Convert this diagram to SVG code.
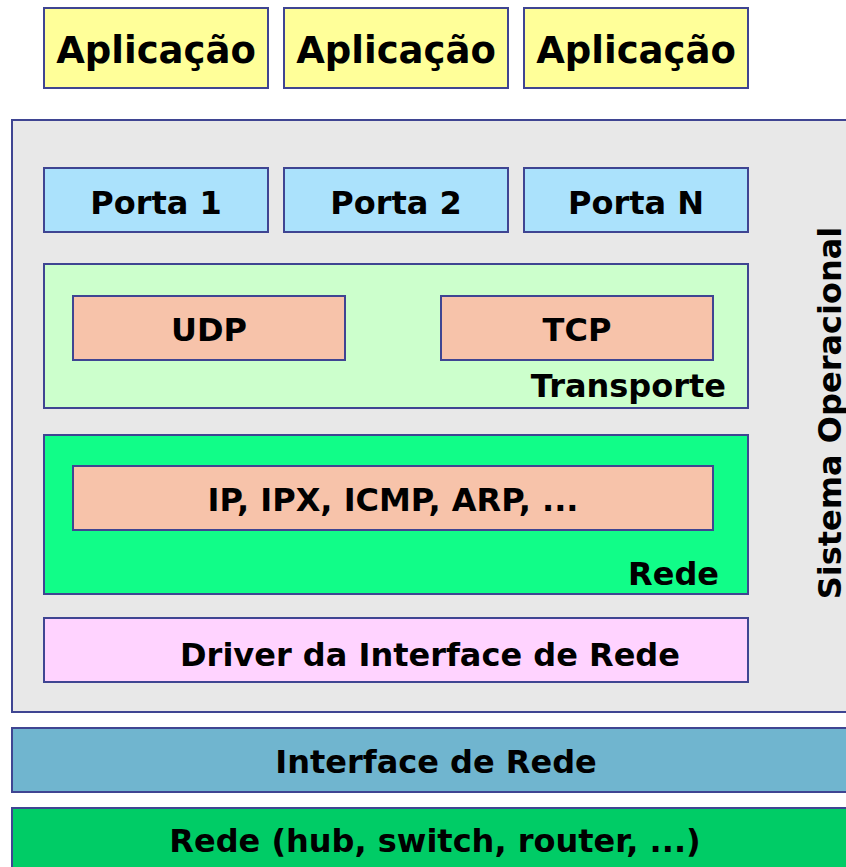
<svg xmlns="http://www.w3.org/2000/svg" width="846" height="867" viewBox="0 0 846 867">
  <style>
    rect { stroke: #3f4592; stroke-width: 2; }
    rect.bg { stroke: none; fill: #ffffff; }
    text { font-family: "DejaVu Sans", "Liberation Sans", sans-serif; font-weight: bold; font-size: 32px; fill: #000; }
    .app rect { fill: #ffff99; }
    .app text { font-size: 37px; }
    .port rect { fill: #abe2fc; }
    .proto { fill: #f7c3aa; }
    .mid { text-anchor: middle; }
    .end { text-anchor: end; }
  </style>
  <rect class="bg" width="846" height="867"/>

  <!-- applications -->
  <g id="app1" class="app"><rect x="44" y="8" width="224" height="80"/><text class="mid" x="156" y="63">Aplicação</text></g>
  <g id="app2" class="app"><rect x="284" y="8" width="224" height="80"/><text class="mid" x="396" y="63">Aplicação</text></g>
  <g id="app3" class="app"><rect x="524" y="8" width="224" height="80"/><text class="mid" x="636" y="63">Aplicação</text></g>

  <!-- operating system -->
  <g id="os">
    <rect x="12" y="120" width="850" height="592" fill="#e8e8e8"/>
    <text class="mid" transform="translate(841,413) rotate(-90)">Sistema Operacional</text>
  </g>

  <g id="port1" class="port"><rect x="44" y="168" width="224" height="64"/><text class="mid" x="156" y="214">Porta 1</text></g>
  <g id="port2" class="port"><rect x="284" y="168" width="224" height="64"/><text class="mid" x="396" y="214">Porta 2</text></g>
  <g id="portN" class="port"><rect x="524" y="168" width="224" height="64"/><text class="mid" x="636" y="214">Porta N</text></g>

  <g id="transport">
    <rect x="44" y="264" width="704" height="144" fill="#ccffcc"/>
    <text class="end" x="726" y="397">Transporte</text>
  </g>
  <g id="udp"><rect class="proto" x="73" y="296" width="272" height="64"/><text class="mid" x="209" y="341">UDP</text></g>
  <g id="tcp"><rect class="proto" x="441" y="296" width="272" height="64"/><text class="mid" x="577" y="341">TCP</text></g>

  <g id="network-layer">
    <rect x="44" y="435" width="704" height="159" fill="#11fd88"/>
    <text class="end" x="719" y="585">Rede</text>
  </g>
  <g id="ip"><rect class="proto" x="73" y="466" width="640" height="64"/><text class="mid" x="393" y="511">IP, IPX, ICMP, ARP, ...</text></g>

  <g id="driver">
    <rect x="44" y="618" width="704" height="64" fill="#ffd3ff"/>
    <text class="mid" x="430" y="666">Driver da Interface de Rede</text>
  </g>

  <!-- hardware -->
  <g id="nic">
    <rect x="12" y="728" width="850" height="64" fill="#70b5cf"/>
    <text class="mid" x="436" y="773">Interface de Rede</text>
  </g>
  <g id="net">
    <rect x="12" y="808" width="850" height="80" fill="#00cc66"/>
    <text class="mid" x="435" y="852">Rede (hub, switch, router, ...)</text>
  </g>

  <g id="connectors"/>
</svg>
